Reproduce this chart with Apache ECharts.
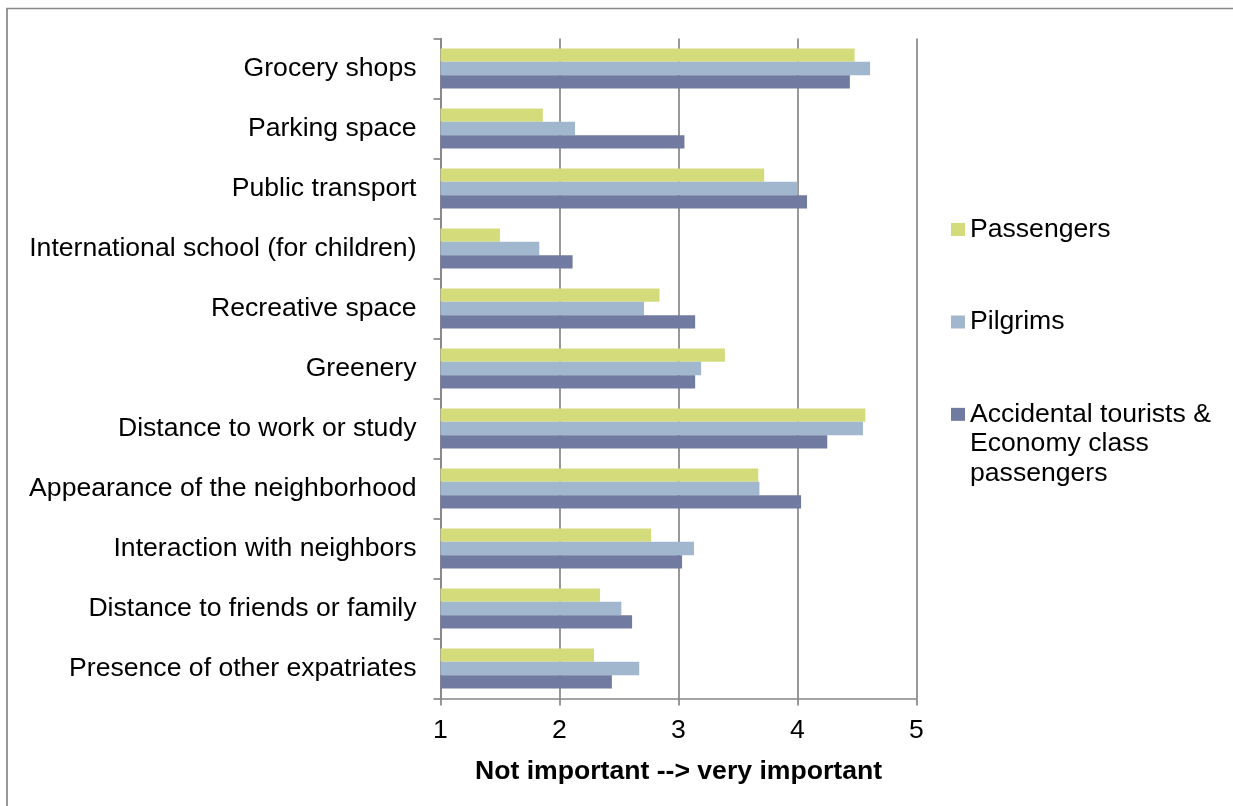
<!DOCTYPE html>
<html>
<head>
<meta charset="utf-8">
<script src="https://cdn.jsdelivr.net/npm/echarts@6/dist/echarts.min.js"></script>
<style>
  html, body { margin: 0; padding: 0; background: #fff; }
  #chart { width: 1233px; height: 806px; }
</style>
</head>
<body>
<div id="chart"></div>
<script>
// Neighbourhood features, rated from 1 (not important) to 5 (very important)
const categories = [
  'Grocery shops',
  'Parking space',
  'Public transport',
  'International school (for children)',
  'Recreative space',
  'Greenery',
  'Distance to work or study',
  'Appearance of the neighborhood',
  'Interaction with neighbors',
  'Distance to friends or family',
  'Presence of other expatriates'
];

const seriesNames = [
  'Passengers',
  'Pilgrims',
  'Accidental tourists & Economy class passengers'
];

const passengers = [4.48, 1.86, 3.72, 1.50, 2.84, 3.39, 4.57, 3.67, 2.77, 2.34, 2.29];
const pilgrims   = [4.61, 2.13, 4.00, 1.83, 2.71, 3.19, 4.55, 3.68, 3.13, 2.52, 2.67];
const accidental = [4.44, 3.05, 4.08, 2.11, 3.14, 3.14, 4.25, 4.03, 3.03, 2.61, 2.44];

const xTicks = [1, 2, 3, 4, 5];
const axisTitle = 'Not important --> very important';

const colors = ['#D4DB7B', '#A0B7CD', '#717BA1'];
const values = [passengers, pilgrims, accidental];

const FONT = '"Liberation Sans", Arial, sans-serif';
const FS = 26.6;
const GRAY = '#878787';

const chart = echarts.init(document.getElementById('chart'), null, { renderer: 'canvas' });

// The long series name wraps over three lines; two leading blank lines keep
// the swatch level with the first line of text.
const legendText = {
  [seriesNames[2]]: '\n\nAccidental tourists &\nEconomy class\npassengers'
};
const legendTops = [214.75, 307.25, 340.6];
const legends = seriesNames.map((name, i) => ({
  data: [name],
  orient: 'vertical',
  left: 951,
  top: legendTops[i],
  padding: 0,
  icon: 'rect',
  itemWidth: 14,
  itemHeight: 13,
  selectedMode: false,
  formatter: n => legendText[n] || n,
  textStyle: {
    fontFamily: FONT,
    fontSize: FS,
    color: '#000',
    lineHeight: 29.5
  }
}));

chart.setOption({
  animation: false,
  backgroundColor: '#fff',
  textStyle: { fontFamily: FONT },
  graphic: [{
    type: 'rect',
    shape: { x: 7, y: 8.5, width: 1400, height: 1000 },
    style: { fill: 'none', stroke: GRAY, lineWidth: 1.7 },
    silent: true
  }],
  legend: legends,
  grid: { left: 440.5, right: 316.5, top: 38.5, bottom: 107.5, containLabel: false },
  xAxis: {
    type: 'value',
    min: xTicks[0],
    max: xTicks[xTicks.length - 1],
    interval: 1,
    name: axisTitle,
    nameLocation: 'middle',
    nameGap: 60,
    nameTextStyle: { fontFamily: FONT, fontSize: FS, fontWeight: 'bold', color: '#000' },
    axisLine: { show: true, lineStyle: { color: GRAY, width: 1.7 } },
    axisTick: { show: true, length: 7, lineStyle: { color: GRAY, width: 1.7 } },
    axisLabel: { fontFamily: FONT, fontSize: FS, color: '#000', margin: 19 },
    splitLine: { show: true, lineStyle: { color: GRAY, width: 1.7 } }
  },
  yAxis: {
    type: 'category',
    inverse: true,
    data: categories,
    axisLine: { show: true, lineStyle: { color: GRAY, width: 1.7 } },
    axisTick: { show: true, length: 7, alignWithLabel: false, lineStyle: { color: GRAY, width: 1.7 } },
    axisLabel: { fontFamily: FONT, fontSize: FS, color: '#000', margin: 24 },
    splitLine: { show: false }
  },
  series: seriesNames.map((name, i) => ({
    name: name,
    type: 'bar',
    data: values[i],
    barGap: '0%',
    barCategoryGap: '33.3%',
    itemStyle: { color: colors[i] }
  }))
});
</script>
</body>
</html>
